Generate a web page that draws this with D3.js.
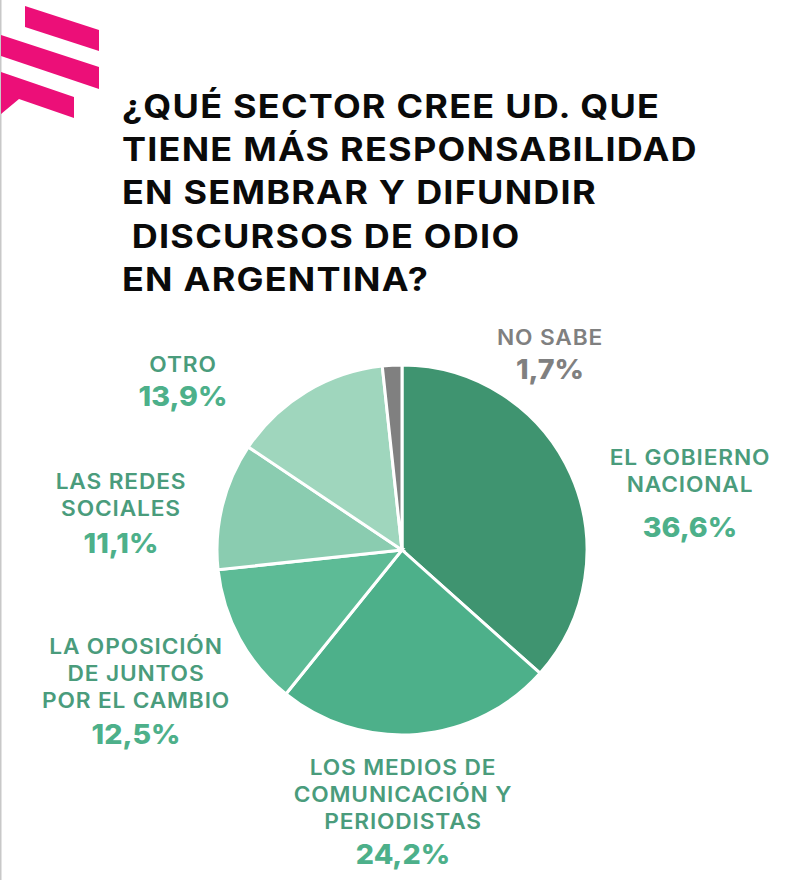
<!DOCTYPE html>
<html>
<head>
<meta charset="utf-8">
<script src="https://cdn.jsdelivr.net/npm/d3@7"></script>
<style>
  html, body { margin: 0; padding: 0; background: #fff; }
  text { font-family: Inter, "Noto Sans", sans-serif; }
</style>
</head>
<body>
<div id="chart"></div>
<script>
// Data, clockwise from 12 o'clock
const categories = ["El gobierno nacional", "Los medios de comunicación y periodistas", "La oposición de Juntos por el Cambio", "Las redes sociales", "Otro", "No sabe"];
const values = [36.6, 24.2, 12.5, 11.1, 13.9, 1.7];
const valueLabels = ["36,6%", "24,2%", "12,5%", "11,1%", "13,9%", "1,7%"];
const sliceColors = ["#3f9470", "#4db08a", "#5dbb96", "#8accb0", "#9fd6bd", "#808080"];
const titleLines = ["¿QUÉ SECTOR CREE UD. QUE", "TIENE MÁS RESPONSABILIDAD", "EN SEMBRAR Y DIFUNDIR", " DISCURSOS DE ODIO", "EN ARGENTINA?"];
const labelLines = [["EL GOBIERNO", "NACIONAL"], ["LOS MEDIOS DE", "COMUNICACIÓN Y", "PERIODISTAS"], ["LA OPOSICIÓN", "DE JUNTOS", "POR EL CAMBIO"], ["LAS REDES", "SOCIALES"], ["OTRO"], ["NO SABE"]];

const width = 800;
const height = 880;
const cx = 402;
const cy = 550;
const radius = 185;

// Inter is narrower than the original font, so the text gets stretched a bit
const titleStretch = 1.125;
const labelStretch = 1.08;
const valueStretch = 1.06;

const svg = d3.select('#chart')
    .append('svg')
    .attr('width', width)
    .attr('height', height)
    .style('display', 'block');

// grey edge of the scanned page
svg.append('rect').attr('x', 0).attr('y', 0).attr('width', 1.5).attr('height', height).attr('fill', '#c8c8c8');

// Logo
const logo = [
    [[25, 6], [99, 30], [99, 51], [25, 27]],
    [[1, 35], [99, 67], [99, 89], [1, 56]],
    [[1, 72], [74, 97], [74, 118], [19, 99], [1, 114]]
];
svg.selectAll('.logo')
    .data(logo)
    .enter().append('polygon')
    .attr('class', 'logo')
    .attr('points', d => d.join(' '))
    .attr('fill', '#ec0f78');

// Title
svg.append('g').selectAll('text')
    .data(titleLines)
    .enter().append('text')
    .attr('transform', (d, i) => `translate(122,${118 + i * 43.2}) scale(${titleStretch},1)`)
    .style('white-space', 'pre')
    .attr('font-size', 32)
    .attr('font-weight', 700)
    .attr('letter-spacing', 1.1)
    .attr('fill', '#0a0a0a')
    .text(d => d);

// Pie
const pie = d3.pie().sort(null).value(d => d);
const arc = d3.arc().innerRadius(0).outerRadius(radius);

svg.append('g')
    .attr('transform', `translate(${cx},${cy})`)
    .selectAll('path')
    .data(pie(values))
    .enter().append('path')
    .attr('d', arc)
    .attr('fill', (d, i) => sliceColors[i])
    .attr('stroke', '#fff')
    .attr('stroke-width', 3);

// Labels: centre x, baseline of first line, baseline of the value
const labelPos = [
    { x: 690, y: 465, vy: 537 },
    { x: 403, y: 775, vy: 864 },
    { x: 136, y: 654, vy: 744 },
    { x: 121, y: 489, vy: 553 },
    { x: 183, y: 372, vy: 406 },
    { x: 550, y: 345, vy: 379 }
];
const labelLineHeight = 27;
const labelColor = i => i === 5 ? '#808080' : '#4a9c7c';
const valueColor = i => i === 5 ? '#808080' : '#4db08a';

const labels = svg.append('g').selectAll('g')
    .data(categories)
    .enter().append('g');

labels.each(function(d, i) {
    const g = d3.select(this);
    labelLines[i].forEach((line, j) => {
        g.append('text')
            .attr('transform', `translate(${labelPos[i].x},${labelPos[i].y + j * labelLineHeight}) scale(${labelStretch},1)`)
            .attr('text-anchor', 'middle')
            .attr('font-size', 21)
            .attr('font-weight', 600)
            .attr('letter-spacing', 0.8)
            .attr('fill', labelColor(i))
            .text(line);
    });
    g.append('text')
        .attr('transform', `translate(${labelPos[i].x},${labelPos[i].vy}) scale(${valueStretch},1)`)
        .attr('text-anchor', 'middle')
        .attr('font-size', 27)
        .attr('font-weight', 800)
        .attr('fill', valueColor(i))
        .text(valueLabels[i]);
});
</script>
</body>
</html>
